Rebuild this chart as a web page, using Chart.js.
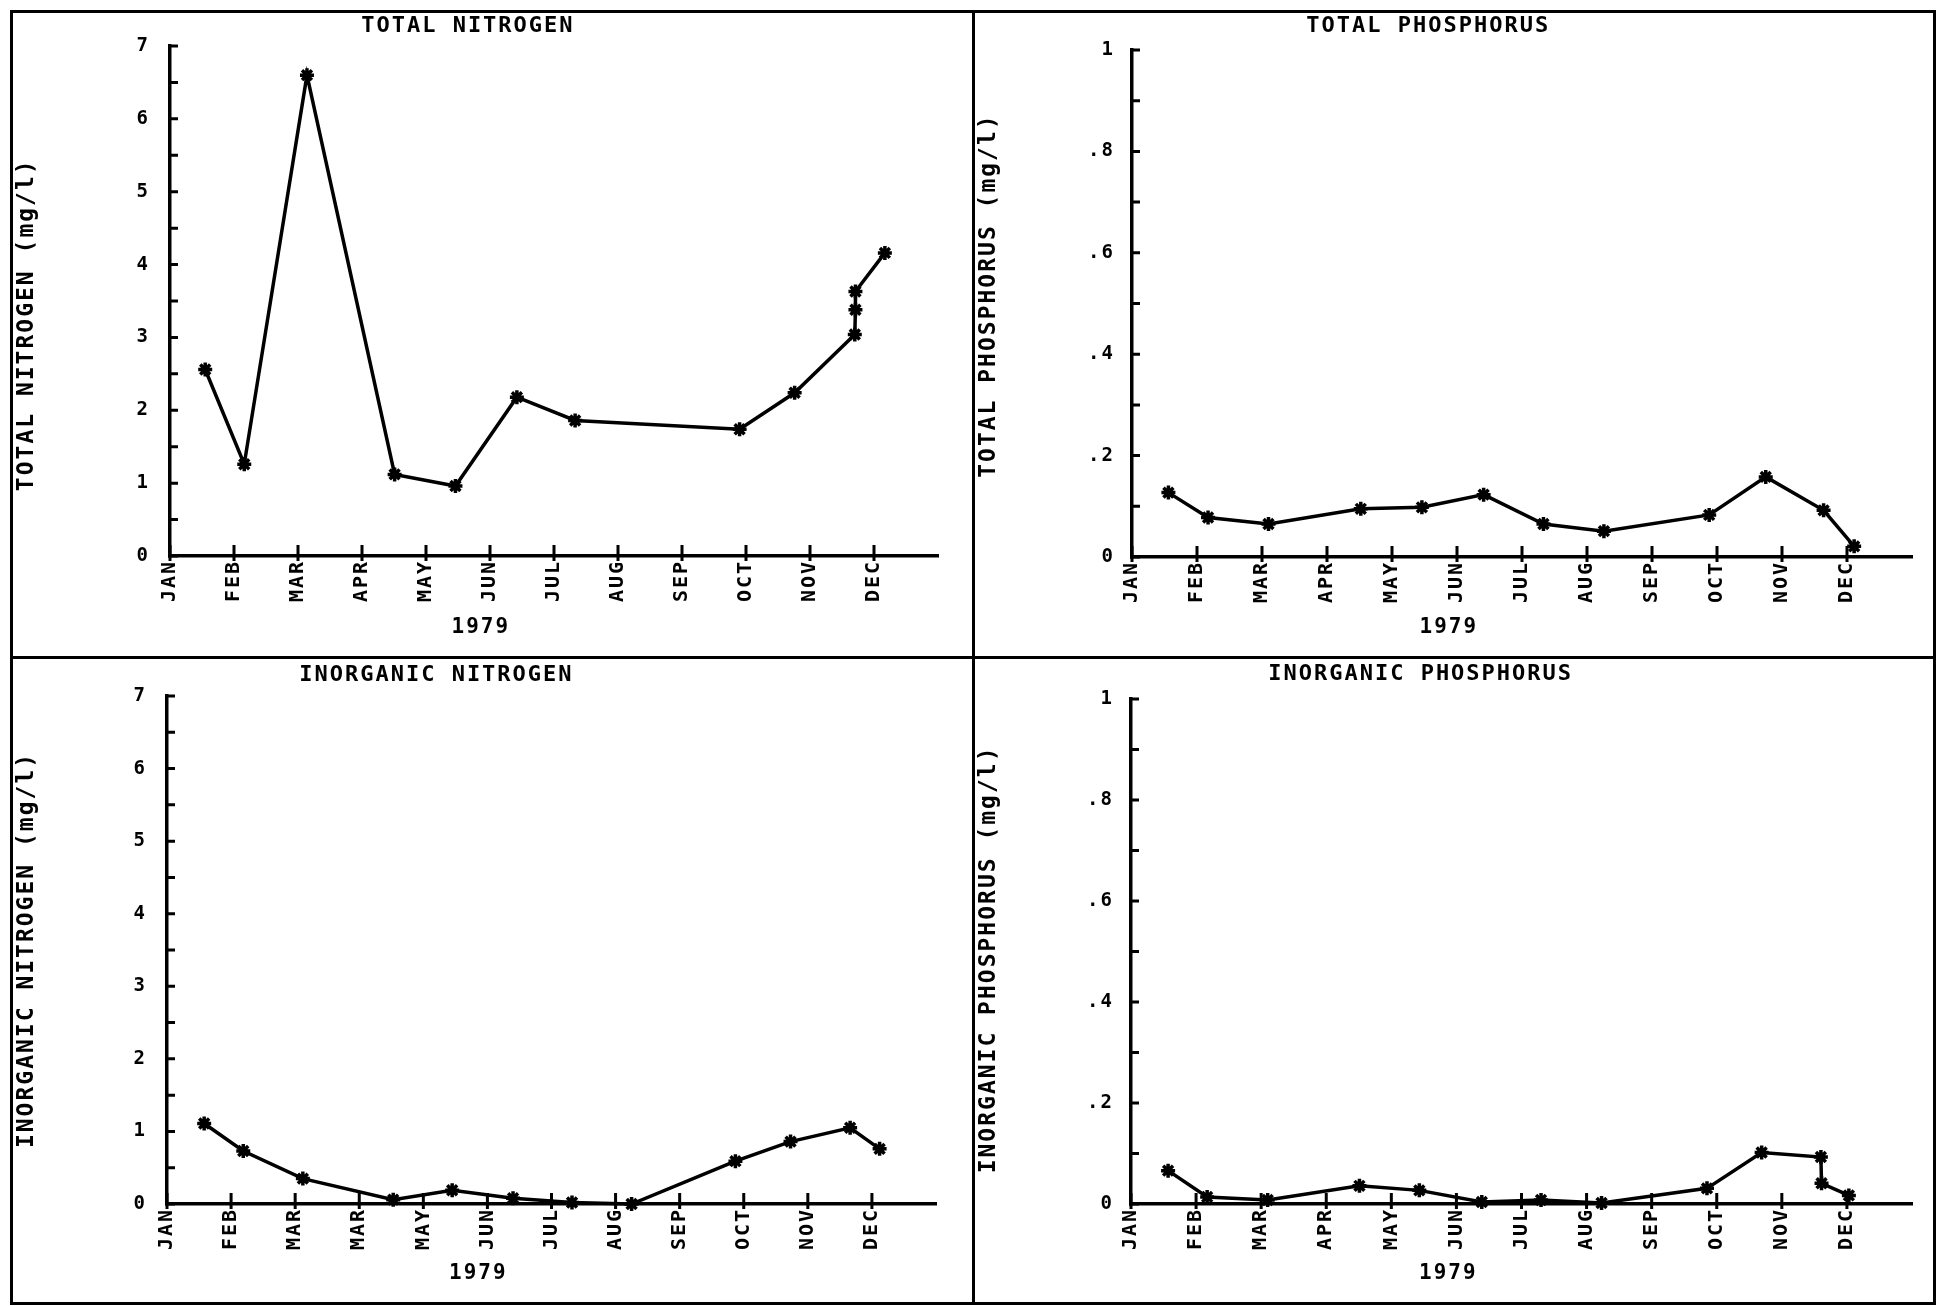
<!DOCTYPE html>
<html>
<head>
<meta charset="utf-8">
<script src="https://cdn.jsdelivr.net/npm/chart.js@4.4.1/dist/chart.umd.min.js"></script>
<style>
html,body{margin:0;padding:0;background:#fff;width:1943px;height:1306px;overflow:hidden}
.frame{position:absolute;left:10px;top:10px;width:1926px;height:1295px;box-sizing:border-box;border:3px solid #000}
.vline{position:absolute;left:972px;top:10px;width:3px;height:1295px;background:#000}
.hline{position:absolute;left:10px;top:656px;width:1926px;height:3px;background:#000}
.panel{position:absolute;width:958px;height:643px}
canvas{display:block}
</style>
</head>
<body>
<div class="frame"></div><div class="vline"></div><div class="hline"></div>
<div class="panel" style="left:13px;top:13px"><canvas id="c1" width="958" height="643"></canvas></div>
<div class="panel" style="left:975px;top:13px"><canvas id="c2" width="958" height="643"></canvas></div>
<div class="panel" style="left:13px;top:659px"><canvas id="c3" width="958" height="643"></canvas></div>
<div class="panel" style="left:975px;top:659px"><canvas id="c4" width="958" height="643"></canvas></div>
<script>
// ---- tick labels ----
const monthLabels = ['JAN','FEB','MAR','APR','MAY','JUN','JUL','AUG','SEP','OCT','NOV','DEC'];
const monthLabelsInorgN = ['JAN','FEB','MAR','MAR','MAY','JUN','JUL','AUG','SEP','OCT','NOV','DEC'];
const yearLabel = '1979';

// ---- data (x = months since Jan 1, 1979) ----
const totalNitrogenX = [0.55, 1.16, 2.14, 3.51, 4.46, 5.42, 6.33, 8.90, 9.76, 10.70, 10.71, 10.71, 11.17];
const totalNitrogenY = [2.56, 1.26, 6.60, 1.12, 0.96, 2.18, 1.86, 1.74, 2.24, 3.04, 3.38, 3.63, 4.16];

const totalPhosphorusX = [0.56, 1.17, 2.10, 3.52, 4.46, 5.41, 6.33, 7.26, 8.88, 9.75, 10.64, 11.11];
const totalPhosphorusY = [0.127, 0.078, 0.065, 0.095, 0.098, 0.123, 0.065, 0.051, 0.083, 0.158, 0.092, 0.021];

const inorgNitrogenX = [0.58, 1.19, 2.12, 3.53, 4.45, 5.40, 6.32, 7.25, 8.87, 9.73, 10.66, 11.12];
const inorgNitrogenY = [1.11, 0.73, 0.35, 0.06, 0.19, 0.08, 0.02, 0.00, 0.59, 0.86, 1.05, 0.76];

const inorgPhosphorusX = [0.57, 1.17, 2.10, 3.51, 4.43, 5.39, 6.30, 7.23, 8.85, 9.69, 10.60, 10.61, 11.03];
const inorgPhosphorusY = [0.066, 0.014, 0.008, 0.036, 0.027, 0.004, 0.008, 0.002, 0.031, 0.102, 0.093, 0.041, 0.017];

// ---- styling ----
const FONT = '"DejaVu Sans Mono", "Liberation Mono", monospace';

const letterSpacingPlugin = {
  id: 'letterSpacing',
  beforeUpdate(chart) { chart.ctx.letterSpacing = '2px'; },
  beforeDraw(chart) { chart.ctx.letterSpacing = '2px'; }
};

const crossTicksPlugin = {
  id: 'crossTicks',
  afterDraw(chart) {
    const ctx = chart.ctx, xs = chart.scales.x, ys = chart.scales.y;
    ctx.save();
    ctx.strokeStyle = '#000';
    ctx.lineWidth = 3;
    ctx.beginPath();
    xs.ticks.forEach(t => {
      const px = xs.getPixelForValue(t.value);
      ctx.moveTo(px, xs.top - 11);
      ctx.lineTo(px, xs.top + 5);
    });
    ys.ticks.forEach(t => {
      const py = ys.getPixelForValue(t.value);
      ctx.moveTo(ys.right - 2, py);
      ctx.lineTo(ys.right + 8, py);
    });
    ctx.stroke();
    ctx.restore();
  }
};

function nitroLabel(v) { return Number.isInteger(v) ? String(v) : ''; }
function phosLabel(v) {
  const k = Math.round(v * 10);
  if (k % 2) return '';
  if (k === 0) return '0';
  if (k === 10) return '1';
  return '.' + k;
}

function makePanel(id, p) {
  const pts = p.xs.map((x, i) => ({ x: x, y: p.ys[i] }));
  new Chart(document.getElementById(id), {
    type: 'line',
    data: {
      datasets: [{
        data: pts,
        borderColor: '#000',
        borderWidth: 3.5,
        pointStyle: 'star',
        pointRadius: 7,
        pointBorderWidth: 3.5,
        pointBorderColor: '#000',
        pointBackgroundColor: '#000',
        tension: 0,
        fill: false,
        clip: false
      }]
    },
    options: {
      responsive: false,
      animation: false,
      events: [],
      layout: { padding: { top: 0, left: 0, bottom: 0, right: p.padRight } },
      plugins: {
        legend: { display: false },
        tooltip: { enabled: false },
        title: {
          display: true,
          text: p.title,
          color: '#000',
          fullSize: true,
          font: { family: FONT, size: 22, weight: 'bold' },
          padding: { top: p.titlePad[0], bottom: p.titlePad[1] }
        }
      },
      scales: {
        x: {
          type: 'linear',
          min: 0,
          max: 12,
          afterBuildTicks: s => { s.ticks = p.labels.map((_, i) => ({ value: i })); },
          afterFit: s => { s.height = p.xHeight; },
          border: { display: true, color: '#000', width: 3.5 },
          grid: { display: false, drawTicks: false, drawOnChartArea: false },
          ticks: {
            autoSkip: false,
            minRotation: 90,
            maxRotation: 90,
            padding: 4,
            color: '#000',
            font: { family: FONT, size: 20, weight: 'bold' },
            callback: v => p.labels[v] !== undefined ? p.labels[v] : ''
          },
          title: {
            display: true,
            text: yearLabel + '          ',
            color: '#000',
            font: { family: FONT, size: 21, weight: 'bold' },
            padding: { top: 0, bottom: 16 }
          }
        },
        y: {
          type: 'linear',
          min: 0,
          max: p.yMax,
          afterFit: s => { s.width = p.yWidth; },
          border: { display: true, color: '#000', width: 3.5 },
          grid: { display: false, drawTicks: false, drawOnChartArea: false },
          ticks: {
            stepSize: p.yStep,
            autoSkip: false,
            padding: p.yTickPad,
            color: '#000',
            font: { family: FONT, size: 19, weight: 'bold' },
            callback: p.yLabel
          },
          title: {
            display: true,
            text: p.yTitle,
            color: '#000',
            font: { family: FONT, size: 23, weight: 'bold' },
            padding: { top: 0, bottom: 0 }
          }
        }
      }
    },
    plugins: [letterSpacingPlugin, crossTicksPlugin]
  });
}

makePanel('c1', {
  title: 'TOTAL NITROGEN ', yTitle: 'TOTAL NITROGEN (mg/l)   ',
  labels: monthLabels, xs: totalNitrogenX, ys: totalNitrogenY,
  yMax: 7, yStep: 0.5, yLabel: nitroLabel,
  yWidth: 157, padRight: 33, xHeight: 100, titlePad: [0, 6.6], yTickPad: 20
});
makePanel('c2', {
  title: 'TOTAL PHOSPHORUS  ', yTitle: ' TOTAL PHOSPHORUS (mg/l)',
  labels: monthLabels, xs: totalPhosphorusX, ys: totalPhosphorusY,
  yMax: 1, yStep: 0.1, yLabel: phosLabel,
  yWidth: 157, padRight: 21, xHeight: 99, titlePad: [0, 10.6], yTickPad: 17
});
makePanel('c3', {
  title: 'INORGANIC NITROGEN     ', yTitle: 'INORGANIC NITROGEN (mg/l)',
  labels: monthLabelsInorgN, xs: inorgNitrogenX, ys: inorgNitrogenY,
  yMax: 7, yStep: 0.5, yLabel: nitroLabel,
  yWidth: 154, padRight: 35, xHeight: 98, titlePad: [2.8, 7.8], yTickPad: 20
});
makePanel('c4', {
  title: 'INORGANIC PHOSPHORUS   ', yTitle: 'INORGANIC PHOSPHORUS (mg/l) ',
  labels: monthLabels, xs: inorgPhosphorusX, ys: inorgPhosphorusY,
  yMax: 1, yStep: 0.1, yLabel: phosLabel,
  yWidth: 156, padRight: 21, xHeight: 98, titlePad: [1.8, 11.8], yTickPad: 17
});
</script>
</body>
</html>
